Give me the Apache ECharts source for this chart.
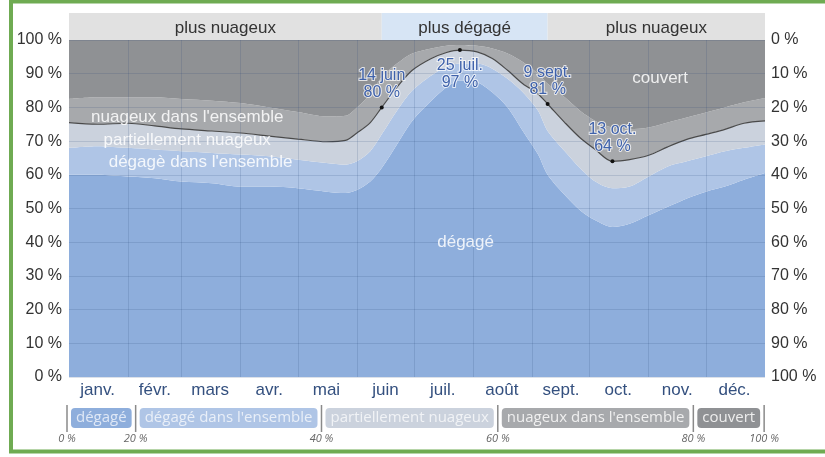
<!DOCTYPE html>
<html>
<head>
<meta charset="utf-8">
<script src="https://cdn.jsdelivr.net/npm/echarts@6/dist/echarts.min.js"></script>
<style>
  html, body { margin: 0; background: #fff; }
  #chart { width: 825px; height: 457px; }
</style>
</head>
<body>
<div id="chart"></div>
<script>
// jour de l'année (0 = 1er janv.)
const days = [0, 15, 31, 45, 59, 75, 90, 105, 120, 135, 145, 151, 158, 164, 172, 180, 190, 198, 205, 214, 222, 230, 238, 246, 251, 260, 268, 276, 285, 294, 304, 314, 324, 334, 344, 354, 365]

// part de chaque catégorie de couverture nuageuse (%)
const degage = [60, 60, 59.5, 59, 58, 57.5, 56.5, 56.5, 56, 55, 54.6, 55.5, 58, 62, 69, 76, 82, 86, 88, 87.5, 84.5, 80, 73, 66, 60, 54, 49.5, 46.5, 44.5, 45.5, 48, 50.5, 53, 55, 56.5, 58.5, 60.5]
const degageEnsemble = [8, 8.5, 8.5, 8.5, 9, 9, 9.5, 9, 8.5, 8.5, 8.4, 8.5, 9, 10, 10, 9, 7.5, 6, 5, 5.5, 7, 8.5, 11.5, 13, 13, 13, 12.5, 11.5, 11.5, 11, 11.5, 12, 11, 10.5, 10.5, 9.5, 8.5]
const partiellement = [7.5, 6.5, 7.3, 7, 6.6, 6.5, 6.4, 6, 6.1, 6.3, 7.2, 8.4, 8.5, 8, 7, 6, 5, 4.3, 4, 3.5, 3, 2.5, 2.5, 5, 8, 8.5, 9, 9.5, 8, 8, 6.3, 5.8, 6.5, 6.5, 6.5, 7.3, 7]
const nuageuxEnsemble = [7, 8, 7.7, 8.5, 8.9, 9, 8.9, 8.5, 8, 7.5, 7.3, 7.6, 8.5, 9, 7, 5, 3, 2, 1.5, 1.8, 3, 5, 6.5, 6, 6, 7.5, 8, 8.5, 10, 9, 8.2, 7.2, 6.5, 6.5, 6.5, 6.2, 6.8]
const couvert = [17.5, 17, 17, 17, 17.5, 18, 18.7, 20, 21.4, 22.7, 22.5, 20, 16, 11, 7, 4, 2.5, 1.7, 1.5, 1.7, 2.5, 4, 6.5, 10, 13, 17, 21, 24, 26, 26.5, 26, 24.5, 23, 21.5, 20, 18.5, 17.2]

const categories = ['dégagé', 'dégagé dans l\'ensemble', 'partiellement nuageux', 'nuageux dans l\'ensemble', 'couvert']
const colors = ['#8eaedc', '#afc5e6', '#cbd2dd', '#a7a9ac', '#8f9194']
const chipText = ['#dfe8f6', '#e9eff8', '#f1f3f6', '#f0f0f0', '#eeeeee']

const monthNames = ['janv.', 'févr.', 'mars', 'avr.', 'mai', 'juin', 'juil.', 'août', 'sept.', 'oct.', 'nov.', 'déc.']
const monthMids = [15, 45, 74, 105, 135, 166, 196, 227, 258, 288, 319, 349]
const monthStarts = [31, 59, 90, 120, 151, 181, 212, 243, 273, 304, 334]

// saisons : plus nuageux / plus dégagé
const seasonNames = ['plus nuageux', 'plus dégagé', 'plus nuageux']
const seasonStart = [0, 164, 251]
const seasonEnd = [164, 251, 365]
const seasonColors = ['#e1e1e1', '#d7e5f5', '#e1e1e1']

// points remarquables (limite dégagé + partiellement nuageux)
const annDays = [164, 205, 251, 285]
const annVals = [80, 97, 81, 64]
const annLabels = ['14 juin\n80 %', '25 juil.\n97 %', '9 sept.\n81 %', '13 oct.\n64 %']

const legendTicks = ['0 %', '20 %', '40 %', '60 %', '80 %', '100 %']

const chart = echarts.init(document.getElementById('chart'))

// valeur en 1re dimension pour que l'empilement se fasse sur y
const series = [degage, degageEnsemble, partiellement, nuageuxEnsemble, couvert].map((arr, i) => ({
  name: categories[i],
  type: 'line',
  stack: 'nuages',
  smooth: 0.3,
  symbol: 'none',
  z: i === 2 ? 3 : 2,
  encode: { x: 1, y: 0 },
  lineStyle: i === 2 ? { width: 1.2, color: '#4a4a4a' } : { width: 0 },
  areaStyle: { color: colors[i], opacity: 1 },
  data: days.map((d, j) => [arr[j], d])
}))

// étiquettes de zones
series[4].markPoint = {
  silent: true,
  z: 6,
  symbol: 'circle', symbolSize: 1,
  itemStyle: { color: 'rgba(0,0,0,0)' },
  label: {
    show: true, position: 'inside', formatter: p => p.value,
    fontSize: 17, color: 'rgba(255,255,255,0.85)', fontFamily: 'Liberation Sans'
  },
  data: [
    { coord: [62, 77.2], value: 'nuageux dans l\'ensemble' },
    { coord: [62, 70.3], value: 'partiellement nuageux' },
    { coord: [69, 63.8], value: 'dégagè dans l\'ensemble' },
    { coord: [310, 88.7], value: 'couvert' },
    { coord: [208, 40], value: 'dégagé' }
  ]
}

series[2].markPoint = {
  silent: true,
  z: 7,
  symbol: 'circle', symbolSize: 4,
  itemStyle: { color: '#111' },
  data: annDays.map((d, i) => ({
    coord: [d, annVals[i]],
    label: {
      show: true,
      formatter: annLabels[i],
      position: i === 1 ? 'bottom' : 'top',
      distance: i === 1 ? 5 : 4,
      fontSize: 16,
      lineHeight: 17,
      fontFamily: 'Liberation Sans',
      color: '#3f62ab',
      textBorderColor: 'rgba(255,255,255,0.75)',
      textBorderWidth: 2
    }
  }))
}

// bandeau des saisons
series.push({
  type: 'custom',
  xAxisIndex: 1,
  yAxisIndex: 2,
  silent: true,
  data: seasonStart.map((s, i) => [s, seasonEnd[i], i]),
  renderItem: function (params, api) {
    const p0 = api.coord([api.value(0), 1])
    const p1 = api.coord([api.value(1), 0])
    const i = api.value(2)
    return {
      type: 'group',
      children: [{
        type: 'rect',
        shape: { x: p0[0], y: p0[1], width: p1[0] - p0[0], height: p1[1] - p0[1] },
        style: { fill: seasonColors[i] }
      }, {
        type: 'text',
        style: {
          text: seasonNames[i],
          x: (p0[0] + p1[0]) / 2,
          y: (p0[1] + p1[1]) / 2 + 2,
          align: 'center',
          verticalAlign: 'middle',
          fill: '#333',
          font: '17px "Liberation Sans"'
        }
      }]
    }
  }
})

// légende : pastilles dimensionnées sur leur texte
const ctx = document.createElement('canvas').getContext('2d')
ctx.font = '15px "Open Sans"'
const graphic = []
let x = 67
const chipTop = 408, chipH = 20
for (let i = 0; i <= categories.length; i++) {
  graphic.push({
    type: 'line', shape: { x1: x, y1: 405, x2: x, y2: 432 },
    style: { stroke: '#8a8a8a', lineWidth: 1.5 }
  })
  graphic.push({
    type: 'text', x: x, y: 433,
    style: { text: legendTicks[i], align: 'center', fill: '#666', font: 'italic 11px "Open Sans"' }
  })
  if (i === categories.length) break
  const w = ctx.measureText(categories[i]).width + 10
  graphic.push({
    type: 'rect', shape: { x: x + 4, y: chipTop, width: w, height: chipH, r: 4 },
    style: { fill: colors[i] }
  })
  graphic.push({
    type: 'text', x: x + 4 + w / 2, y: chipTop + chipH / 2,
    style: { text: categories[i], align: 'center', verticalAlign: 'middle', fill: chipText[i], font: '15px "Open Sans"' }
  })
  x += w + 8
}
// cadre vert
graphic.push({
  type: 'rect', shape: { x: 11, y: 1.5, width: 840, height: 450 },
  style: { fill: 'none', stroke: '#6fab52', lineWidth: 4 }
})

chart.setOption({
  animation: false,
  backgroundColor: '#fff',
  grid: [
    { left: 69, right: 60, top: 40, bottom: 80 },
    { left: 69, right: 60, top: 13, height: 27 }
  ],
  xAxis: [{
    type: 'value', gridIndex: 0, min: 0, max: 365, z: 5,
    axisLine: { show: false },
    axisTick: { show: false, customValues: monthStarts },
    splitLine: { show: true, lineStyle: { color: 'rgba(40,70,120,0.16)', width: 1 } },
    axisLabel: {
      customValues: monthMids,
      formatter: v => monthNames[monthMids.indexOf(v)],
      margin: 5, fontSize: 17, color: '#34507f', fontFamily: 'Liberation Sans'
    }
  }, {
    type: 'value', gridIndex: 1, min: 0, max: 365, show: false
  }],
  yAxis: [{
    type: 'value', gridIndex: 0, min: 0, max: 100, interval: 10, z: 5,
    axisLine: { show: false }, axisTick: { show: false },
    splitLine: { lineStyle: { color: 'rgba(40,70,120,0.16)', width: 1 } },
    axisLabel: { formatter: '{value} %', margin: 7, fontSize: 16, color: '#333', fontFamily: 'Liberation Sans' }
  }, {
    type: 'value', gridIndex: 0, position: 'right', inverse: true, min: 0, max: 100, interval: 10,
    axisLine: { show: false }, axisTick: { show: false }, splitLine: { show: false },
    axisLabel: { formatter: '{value} %', margin: 6, fontSize: 16, color: '#333', fontFamily: 'Liberation Sans' }
  }, {
    type: 'value', gridIndex: 1, min: 0, max: 1, show: false
  }],
  series: series,
  graphic: graphic
})
</script>
</body>
</html>
